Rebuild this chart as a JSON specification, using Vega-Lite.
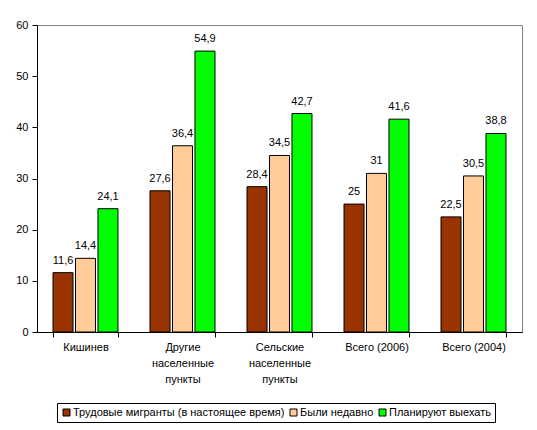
{
  "$schema": "https://vega.github.io/schema/vega-lite/v6.json",
  "autosize": "none",
  "width": 485,
  "height": 307,
  "padding": {"left": 37, "top": 25, "right": 15, "bottom": 98},
  "background": "white",
  "config": {
    "font": "Liberation Sans",
    "view": {"stroke": "#808080", "strokeWidth": 1},
    "axis": {"labelFont": "Liberation Sans", "labelFontSize": 11, "labelColor": "black", "domainColor": "black", "tickColor": "black", "grid": false, "title": null}
  },
  "data": {"values": [
    {"cat": "Кишинев", "series": "Трудовые мигранты (в настоящее время)", "value": 11.6, "label": "11,6"},
    {"cat": "Кишинев", "series": "Были недавно", "value": 14.4, "label": "14,4"},
    {"cat": "Кишинев", "series": "Планируют выехать", "value": 24.1, "label": "24,1"},
    {"cat": "Другие населенные пункты", "series": "Трудовые мигранты (в настоящее время)", "value": 27.6, "label": "27,6"},
    {"cat": "Другие населенные пункты", "series": "Были недавно", "value": 36.4, "label": "36,4"},
    {"cat": "Другие населенные пункты", "series": "Планируют выехать", "value": 54.9, "label": "54,9"},
    {"cat": "Сельские населенные пункты", "series": "Трудовые мигранты (в настоящее время)", "value": 28.4, "label": "28,4"},
    {"cat": "Сельские населенные пункты", "series": "Были недавно", "value": 34.5, "label": "34,5"},
    {"cat": "Сельские населенные пункты", "series": "Планируют выехать", "value": 42.7, "label": "42,7"},
    {"cat": "Всего (2006)", "series": "Трудовые мигранты (в настоящее время)", "value": 25, "label": "25"},
    {"cat": "Всего (2006)", "series": "Были недавно", "value": 31, "label": "31"},
    {"cat": "Всего (2006)", "series": "Планируют выехать", "value": 41.6, "label": "41,6"},
    {"cat": "Всего (2004)", "series": "Трудовые мигранты (в настоящее время)", "value": 22.5, "label": "22,5"},
    {"cat": "Всего (2004)", "series": "Были недавно", "value": 30.5, "label": "30,5"},
    {"cat": "Всего (2004)", "series": "Планируют выехать", "value": 38.8, "label": "38,8"}
  ]},
  "encoding": {
    "x": {
      "field": "cat", "type": "nominal", "sort": null,
      "scale": {"paddingInner": 0.33, "paddingOuter": 0.165},
      "axis": {"labelAngle": 0, "tickBand": "extent", "tickSize": 5, "labelPadding": 4, "labelLineHeight": 16,
        "labelExpr": "datum.label == 'Другие населенные пункты' ? ['Другие', 'населенные', 'пункты'] : datum.label == 'Сельские населенные пункты' ? ['Сельские', 'населенные', 'пункты'] : datum.label"}
    },
    "xOffset": {"field": "series", "type": "nominal", "sort": null, "scale": {"paddingInner": 0.11}},
    "y": {
      "field": "value", "type": "quantitative",
      "scale": {"domain": [0, 60], "nice": false},
      "axis": {"values": [0, 10, 20, 30, 40, 50, 60], "tickSize": 5, "labelPadding": 4}
    }
  },
  "layer": [
    {
      "mark": {"type": "bar", "stroke": "black", "strokeWidth": 1},
      "encoding": {
        "color": {
          "field": "series", "type": "nominal", "sort": null,
          "scale": {"range": ["#993300", "#FFCC99", "#00FF00"]},
          "legend": {
            "title": null, "orient": "none", "legendX": 20, "legendY": 378, "direction": "horizontal",
            "strokeColor": "black", "fillColor": "white", "padding": 4,
            "symbolType": "square", "symbolSize": 49, "symbolStrokeColor": "black", "symbolStrokeWidth": 1, "symbolOpacity": 1,
            "labelFont": "Liberation Sans", "labelFontSize": 11, "labelColor": "black", "labelLimit": 300, "columnPadding": 3, "labelOffset": 1
          }
        }
      }
    },
    {
      "mark": {"type": "text", "baseline": "bottom", "dy": -7, "fontSize": 11, "font": "Liberation Sans", "color": "black"},
      "encoding": {"text": {"field": "label", "type": "nominal"}}
    }
  ]
}
